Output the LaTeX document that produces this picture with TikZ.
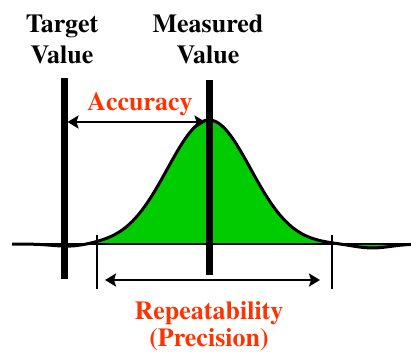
\documentclass[tikz,border=0pt]{standalone}
\usepackage[T1]{fontenc}
\usepackage{times}
\usetikzlibrary{arrows.meta}
\definecolor{accred}{RGB}{255,51,0}
\definecolor{bellgreen}{RGB}{0,204,0}
\tikzset{
  vallabel/.style={font=\bfseries\fontsize{26}{31}\selectfont,
                   align=center, inner sep=0pt},
  errlabel/.style={vallabel, text=accred},
  markline/.style={line width=7pt},
  tickline/.style={line width=2pt},
  spanarr/.style={{Stealth[length=11pt,width=13pt,inset=2pt]}-{Stealth[length=11pt,width=13pt,inset=2pt]},
                  line width=2.5pt},
  bellline/.style={line width=3pt},
}

\begin{document}
\begin{tikzpicture}[x=1pt, y=-1pt,
  declare function={bell(\x)=124*exp(-0.5*((\x-209)/41.6)*((\x-209)/41.6))
    - 2.5*exp(-((\x-70)/24)*((\x-70)/24)) - 4*exp(-((\x-372)/26)*((\x-372)/26));}]
  \useasboundingbox (0,0) rectangle (411,356);
  \coordinate (axisL) at (12,244);
  \coordinate (axisR) at (411,244);
  \coordinate (tgttop) at (64,78);
  \coordinate (tgtbot) at (64,279);
  \coordinate (meatop) at (209,80);
  \coordinate (meabot) at (209,275);
  \coordinate (lotop) at (97,235);
  \coordinate (lobot) at (97,289);
  \coordinate (hitop) at (332,235);
  \coordinate (hibot) at (332,289);
  \coordinate (accL) at (67.5,122);
  \coordinate (accR) at (205.5,122);
  \coordinate (repL) at (105,280);
  \coordinate (repR) at (320,280);
  % bell curve
  \fill[bellgreen] plot[domain=12:411, samples=160, smooth] (\x,{244-bell(\x)}) -- (axisR) -- cycle;
  \draw[bellline] plot[domain=12:411, samples=160, smooth] (\x,{244-bell(\x)});
  \draw[line width=2.5pt] (axisL) -- (axisR);
  % value markers
  \draw[markline] (tgttop) -- (tgtbot);
  \draw[markline] (meatop) -- (meabot);
  \draw[tickline] (lotop) -- (lobot);
  \draw[tickline] (hitop) -- (hibot);
  \draw[spanarr] (accL) -- (accR);
  \draw[spanarr] (repL) -- (repR);
  % labels
  \node[vallabel, anchor=north] (tgtlbl) at (62,14) {Target\\Value};
  \node[vallabel, anchor=north] (mealbl) at (208,14) {Measured\\Value};
  \node[errlabel, anchor=base] (acclbl) at (140,110) {Accuracy};
  \node[errlabel, anchor=north] (replbl) at (209,301) {Repeatability\\[-4pt](Precision)};
\end{tikzpicture}
\end{document}
